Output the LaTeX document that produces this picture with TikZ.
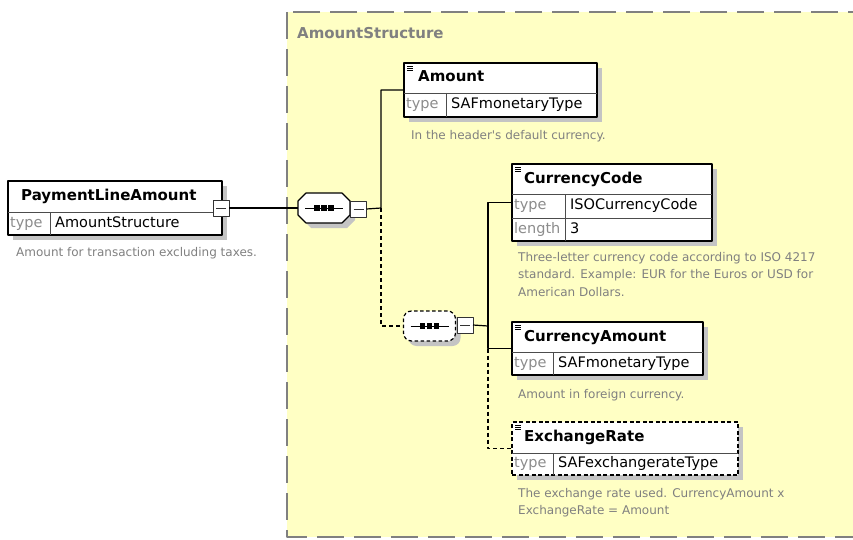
\documentclass[tikz,border=0pt]{standalone}
\usepackage{fontspec}
\setmainfont{DejaVu Sans}
\usetikzlibrary{calc,shadows}

\definecolor{xsdyellow}{RGB}{255,255,196}
\definecolor{xsdgray}{RGB}{128,128,128}
\definecolor{xsdshade}{RGB}{196,196,196}

\tikzset{
	shade/.style={drop shadow={shadow xshift=5pt, shadow yshift=-5pt, fill=xsdshade, opacity=1}},
	elbox/.style={draw=black, line width=1.6pt, fill=white, anchor=north west, inner sep=0pt, outer sep=0pt, shade},
	elname/.style={anchor=west, inner sep=0pt, font=\fontsize{15}{15}\selectfont\bfseries, text height=11pt, text depth=3pt},
	celltype/.style={anchor=west, inner sep=0pt, text=black!45, text height=10.5pt, text depth=3pt},
	cellval/.style={anchor=west, inner sep=0pt, text height=10.5pt, text depth=3pt},
	cellline/.style={black!70, line width=0.8pt},
	desc/.style={anchor=north west, inner sep=0pt, align=left, text=xsdgray, font=\fontsize{12}{17.5}\selectfont},
	seqbox/.style={minimum width=52pt, minimum height=30pt, inner sep=0pt, outer sep=0pt},
	minus/.style={draw=black!80, line width=0.9pt, fill=white, minimum size=16pt, inner sep=0pt, outer sep=0pt,
		path picture={\draw[line width=0.9pt] ([xshift=3pt]path picture bounding box.west) -- ([xshift=-3pt]path picture bounding box.east);}},
	conn/.style={line width=1.2pt},
	optline/.style={dash pattern=on 4pt off 3pt},
}

\begin{document}
\begin{tikzpicture}[x=1pt, y=-1pt, line join=round, font=\fontsize{14.5}{16}\selectfont]
	\useasboundingbox (0,0) rectangle (853,540);
	\clip (0,0) rectangle (853,540);
	% Vùng kiểu phức hợp
	\fill[xsdyellow] (287,12) rectangle (870,537);
	\draw[xsdgray, line width=1.6pt, dash pattern=on 27pt off 10pt] (287,12) rectangle (870,537);
	\node[anchor=west, inner sep=0pt, text=xsdgray, font=\fontsize{15}{15}\selectfont\bfseries] (ctName) at (297,33) {AmountStructure};

	% Phần tử gốc
	\node[elbox, minimum width=214pt, minimum height=54pt] (pla) at (8,181) {};
	\node[elname] (plaName) at ($(pla.north west)+(13,15.5)$) {PaymentLineAmount};
	\draw[cellline] ($(pla.north west)+(0,31)$) -- ($(pla.north east)+(0,31)$)
		($(pla.north west)+(42,31)$) -- ($(pla.south west)+(42,0)$);
	\node[celltype] (plaType) at ($(pla.north west)+(2,42.5)$) {type};
	\node[cellval] (plaVal) at ($(pla.north west)+(47,42.5)$) {AmountStructure};
	\node[minus] (plaMin) at (221,208) {};
	\node[desc] (plaDesc) at (16,247) {Amount for transaction excluding taxes.};

	% Các khối sequence
	\node[seqbox] (seqA) at (324,208) {};
	\begin{scope}[shift={(seqA.center)}]
		\fill[xsdshade, shift={(5,5)}] (-18,-15) -- (18,-15) -- (26,-7) -- (26,7) -- (18,15) -- (-18,15) -- (-26,7) -- (-26,-7) -- cycle;
		\filldraw[fill=white, line width=1.2pt] (-18,-15) -- (18,-15) -- (26,-7) -- (26,7) -- (18,15) -- (-18,15) -- (-26,7) -- (-26,-7) -- cycle;
	\end{scope}
	\node[seqbox, draw=black, fill=white, line width=1.2pt, rounded corners=8pt, dash pattern=on 3.5pt off 2.5pt, shade] (seqB) at (429.5,326) {};
	\node[minus] (seqAMin) at (358.5,209) {};
	\node[minus] (seqBMin) at (465,325) {};
	\foreach \s in {seqA, seqB} {
		\draw[line width=1pt] ($(\s.center)+(-19,0)$) -- ($(\s.center)+(19,0)$);
		\foreach \dx in {-7,0,7}
			\fill ($(\s.center)+(\dx,0)$) +(-2.6,-2.6) rectangle +(2.6,2.6);
	}

	% Amount
	\node[elbox, minimum width=193pt, minimum height=54pt] (amt) at (404,63) {};
	\node[elname] (amtName) at ($(amt.north west)+(14,15)$) {Amount};
	\draw[cellline] ($(amt.north west)+(0,30)$) -- ($(amt.north east)+(0,30)$)
		($(amt.north west)+(42,30)$) -- ($(amt.south west)+(42,0)$);
	\node[celltype] (amtType) at ($(amt.north west)+(2,42)$) {type};
	\node[cellval] (amtVal) at ($(amt.north west)+(47,42)$) {SAFmonetaryType};
	\node[desc] (amtDesc) at (411,130) {In the header\textquotesingle s default currency.};

	% CurrencyCode
	\node[elbox, minimum width=200pt, minimum height=77pt] (ccode) at (512,164) {};
	\node[elname] (ccodeName) at ($(ccode.north west)+(12,15)$) {CurrencyCode};
	\draw[cellline] ($(ccode.north west)+(0,30)$) -- ($(ccode.north east)+(0,30)$)
		($(ccode.north west)+(0,54)$) -- ($(ccode.north east)+(0,54)$)
		($(ccode.north west)+(53,30)$) -- ($(ccode.south west)+(53,0)$);
	\node[celltype] (ccodeType) at ($(ccode.north west)+(2,42)$) {type};
	\node[cellval] (ccodeVal) at ($(ccode.north west)+(58,42)$) {ISOCurrencyCode};
	\node[celltype] (ccodeLen) at ($(ccode.north west)+(2,65.5)$) {length};
	\node[cellval] (ccodeLenVal) at ($(ccode.north west)+(58,65.5)$) {3};
	\node[desc] (ccodeDesc) at (518,252) {Three-letter currency code according to ISO 4217\\standard. Example: EUR for the Euros or USD for\\American Dollars.};

	% CurrencyAmount
	\node[elbox, minimum width=191pt, minimum height=53pt] (camt) at (512,322) {};
	\node[elname] (camtName) at ($(camt.north west)+(12,15)$) {CurrencyAmount};
	\draw[cellline] ($(camt.north west)+(0,30)$) -- ($(camt.north east)+(0,30)$)
		($(camt.north west)+(41,30)$) -- ($(camt.south west)+(41,0)$);
	\node[celltype] (camtType) at ($(camt.north west)+(2,41.5)$) {type};
	\node[cellval] (camtVal) at ($(camt.north west)+(46,41.5)$) {SAFmonetaryType};
	\node[desc] (camtDesc) at (518,389) {Amount in foreign currency.};

	% ExchangeRate (tùy chọn)
	\node[elbox, dash pattern=on 4pt off 2.5pt, minimum width=226pt, minimum height=53pt] (exr) at (512,422) {};
	\node[elname] (exrName) at ($(exr.north west)+(12,15.5)$) {ExchangeRate};
	\draw[cellline] ($(exr.north west)+(0,31)$) -- ($(exr.north east)+(0,31)$)
		($(exr.north west)+(41,31)$) -- ($(exr.south west)+(41,0)$);
	\node[celltype] (exrType) at ($(exr.north west)+(2,42)$) {type};
	\node[cellval] (exrVal) at ($(exr.north west)+(46,42)$) {SAFexchangerateType};
	\node[desc] (exrDesc) at (518,488) {The exchange rate used. CurrencyAmount x\\ExchangeRate = Amount};

	% Biểu tượng chú thích
	\foreach \e in {amt, ccode, camt, exr}
		\foreach \i in {0,1,2}
			\draw[line width=0.7pt] ($(\e.north west)+(3,3+2*\i)$) -- ++(6,0);

	% Đường nối
	\coordinate (t1) at (381,208);
	\coordinate (t2) at (488,326);
	\draw[conn] (plaMin.east) -- (seqA.west);
	\draw[conn] (seqAMin.east) -- (t1) |- (amt.west);
	\draw[conn, optline] (t1) |- (seqB.west);
	\draw[conn] (seqBMin.east) -- (t2);
	\draw[conn] (ccode.west) -| (t2) |- (camt.west);
	\draw[conn, optline] (t2 |- camt.west) |- (exr.west);
\end{tikzpicture}
\end{document}
